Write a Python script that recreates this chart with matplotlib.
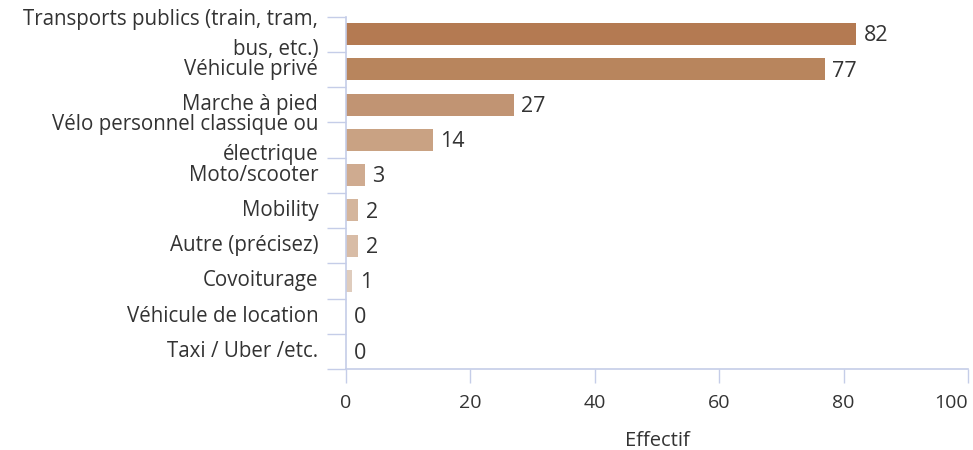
import matplotlib
matplotlib.use("Agg")
import matplotlib.pyplot as plt
import numpy as np

categories = [
    "Transports publics (train, tram,\nbus, etc.)",
    "Véhicule privé",
    "Marche à pied",
    "Vélo personnel classique ou\nélectrique",
    "Moto/scooter",
    "Mobility",
    "Autre (précisez)",
    "Covoiturage",
    "Véhicule de location",
    "Taxi / Uber /etc.",
]
counts = [82, 77, 27, 14, 3, 2, 2, 1, 0, 0]
x_ticks = [0, 20, 40, 60, 80, 100]
x_label = "Effectif"

BAR_COLORS = ["#b47a52", "#b8855d", "#c19473", "#c9a283", "#cfab90",
              "#d4b59c", "#d8bca6", "#dfccbd", "#e4d6ca", "#e4d6ca"]
AXIS_COLOR = "#c5cde8"
TEXT_COLOR = "#333333"

plt.rcParams["font.family"] = ["Open Sans", "DejaVu Sans"]

fig = plt.figure(figsize=(9.73, 4.5), dpi=100)
ax = fig.add_axes([346 / 973, 1 - 369 / 450, (968 - 346) / 973, (369 - 16.5) / 450])

n = len(categories)
y = np.arange(n)
ax.barh(y, counts, height=0.62, color=BAR_COLORS[:n], edgecolor="none", zorder=2)

for yi, v in zip(y, counts):
    ax.text(v + 1.2, yi + 0.05, str(v), va="center", ha="left",
            fontsize=15.5, color=TEXT_COLOR)

ax.set_ylim(n - 0.5, -0.5)
ax.set_xlim(0, 100)

# category labels at band centres, tick marks at band edges
ax.set_yticks(np.arange(-0.5, n, 1.0))
ax.set_yticklabels([])
ax.tick_params(axis="y", length=14, width=1, color=AXIS_COLOR)
for yi, lab in zip(y, categories):
    ax.annotate(lab, (0, yi), xytext=(-20, 0), textcoords="offset points",
                xycoords=("axes fraction", "data"),
                ha="right", va="center", fontsize=14.8, color=TEXT_COLOR,
                linespacing=1.55, multialignment="right")

ax.set_xticks(x_ticks)
ax.set_xticklabels([str(t) for t in x_ticks], fontsize=14, color=TEXT_COLOR)
ax.get_xticklabels()[-1].set_horizontalalignment("right")
ax.tick_params(axis="x", length=10, width=1, color=AXIS_COLOR, pad=8)
ax.set_xlabel(x_label, fontsize=14.5, color=TEXT_COLOR, labelpad=14)

for side in ("top", "right"):
    ax.spines[side].set_visible(False)
for side in ("left", "bottom"):
    ax.spines[side].set_color(AXIS_COLOR)
    ax.spines[side].set_linewidth(1.2)

fig.savefig("out.png", dpi=100)
